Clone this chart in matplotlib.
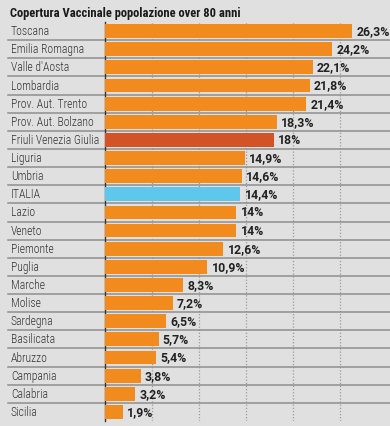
import matplotlib
matplotlib.use("Agg")
import matplotlib.pyplot as plt

# data
regions = ["Toscana", "Emilia Romagna", "Valle d'Aosta", "Lombardia", "Prov. Aut. Trento",
           "Prov. Aut. Bolzano", "Friuli Venezia Giulia", "Liguria", "Umbria", "ITALIA",
           "Lazio", "Veneto", "Piemonte", "Puglia", "Marche", "Molise", "Sardegna",
           "Basilicata", "Abruzzo", "Campania", "Calabria", "Sicilia"]
coverage = [26.3, 24.2, 22.1, 21.8, 21.4, 18.3, 18.0, 14.9, 14.6, 14.4,
            14.0, 14.0, 12.6, 10.9, 8.3, 7.2, 6.5, 5.7, 5.4, 3.8, 3.2, 1.9]
labels = ["26,3%", "24,2%", "22,1%", "21,8%", "21,4%", "18,3%", "18%", "14,9%", "14,6%", "14,4%",
          "14%", "14%", "12,6%", "10,9%", "8,3%", "7,2%", "6,5%", "5,7%", "5,4%", "3,8%", "3,2%", "1,9%"]
grid_ticks = [5, 10, 15, 20, 25]

plt.rcParams["font.family"] = ["Roboto Condensed", "DejaVu Sans"]

bg = "#e0e0e0"
orange = "#f28b1d"
colors = []
for r in regions:
    if r == "ITALIA":
        colors.append("#5ec8ec")
    elif r == "Friuli Venezia Giulia":
        colors.append("#d25426")
    else:
        colors.append(orange)

fig = plt.figure(figsize=(3.9, 4.26), dpi=100, facecolor=bg)
ax = fig.add_axes([105 / 390, 1 - 421 / 426, 285 / 390, 399 / 426], facecolor=bg)

ypos = list(range(len(regions)))
ax.barh(ypos, coverage, height=0.76, color=colors, zorder=3)
ax.set_ylim(len(regions) - 0.5, -0.5)
ax.set_xlim(0, 285 / 9.39)

for x in grid_ticks:
    ax.axvline(x, color="#9a9a9a", lw=0.9, ls=(0, (1, 1.5)), zorder=1)

# separators between rows, spanning the label column too
for i in range(len(regions) - 1):
    ax.plot([-0.34, 1.0], [i + 0.5, i + 0.5], color="#8f8f8f", lw=1.1,
            transform=ax.get_yaxis_transform(), clip_on=False, zorder=2)

for i, (r, v, lab) in enumerate(zip(regions, coverage, labels)):
    ax.text(v + 0.45, i + 0.03, lab, va="center", ha="left", fontsize=8.8, fontweight="bold",
            family=["Roboto", "DejaVu Sans"], color="#222222", zorder=4)
    ax.text(-0.33, i + 0.03, r, va="center", ha="left", fontsize=8.4, fontweight="light",
            color="#333333", transform=ax.get_yaxis_transform())

for s in ["top", "right", "bottom"]:
    ax.spines[s].set_visible(False)
ax.spines["left"].set_color("#333333")
ax.spines["left"].set_linewidth(1.0)
ax.set_xticks([])
ax.set_yticks([])

fig.text(10 / 390, 1 - 13 / 426, "Copertura Vaccinale popolazione over 80 anni", fontsize=9,
         fontweight="bold", color="#1a1a1a", va="center", ha="left")

fig.savefig("out.png", dpi=100, facecolor=bg)
